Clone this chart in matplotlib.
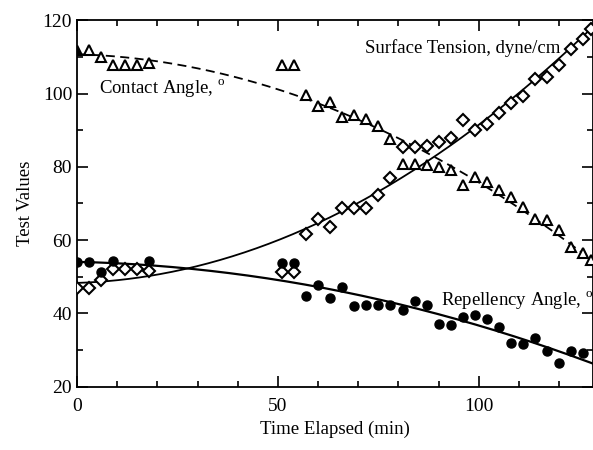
import matplotlib
matplotlib.use('Agg')
import matplotlib.pyplot as plt
import numpy as np

plt.rcParams['font.family'] = ['Liberation Serif', 'DejaVu Serif']
plt.rcParams['mathtext.fontset'] = 'custom'
plt.rcParams['mathtext.rm'] = 'Liberation Serif'

# contact angle (open triangles, dashed fit)
contact_t = [0, 3, 6, 9, 12, 15, 18, 51, 54, 57, 60, 63, 66, 69, 72, 75, 78, 81, 84, 87,
             90, 93, 96, 99, 102, 105, 108, 111, 114, 117, 120, 123, 126, 128]
contact_v = [111.9, 111.9, 110.0, 107.8, 107.8, 107.8, 108.2, 107.8, 107.8, 99.5, 96.5, 97.6,
             93.7, 94.0, 93.0, 91.0, 87.5, 80.8, 80.8, 80.5, 79.9, 79.1, 75.0, 77.1, 75.8,
             73.7, 71.7, 69.1, 65.8, 65.5, 62.8, 58.2, 56.4, 54.6]

# surface tension (open diamonds, solid fit)
tension_t = [0, 3, 6, 9, 12, 15, 18, 51, 54, 57, 60, 63, 66, 69, 72, 75, 78, 81, 84, 87,
             90, 93, 96, 99, 102, 105, 108, 111, 114, 117, 120, 123, 126, 128]
tension_v = [46.8, 46.8, 49.1, 52.0, 52.2, 52.0, 51.6, 51.4, 51.2, 61.7, 65.7, 63.7, 68.8,
             68.8, 68.7, 72.3, 76.9, 85.5, 85.5, 85.8, 86.7, 87.9, 92.8, 90.0, 91.6, 94.6,
             97.3, 99.4, 104.0, 104.6, 107.8, 112.1, 114.9, 117.6]

# repellency angle (filled circles, solid fit)
repel_t = [0, 3, 6, 9, 18, 51, 54, 57, 60, 63, 66, 69, 72, 75, 78, 81, 84, 87, 90, 93,
           96, 99, 102, 105, 108, 111, 114, 117, 120, 123, 126]
repel_v = [54.1, 53.9, 51.2, 54.3, 54.4, 53.8, 53.8, 44.8, 47.7, 44.1, 47.1, 42.1, 42.2,
           42.4, 42.2, 40.9, 43.5, 42.2, 37.1, 36.9, 39.1, 39.6, 38.5, 36.4, 31.8, 31.6,
           33.4, 29.7, 26.5, 29.7, 29.3]


def fit_curve(t, v, xs, deg=2):
    return np.polyval(np.polyfit(t, v, deg), xs)


fig = plt.figure(figsize=(5.93, 4.5), dpi=100)
ax = fig.add_axes([0.1298, 0.1407, 0.8702, 0.8144])

xs = np.linspace(0, 128.4, 300)
ax.plot(xs, fit_curve(contact_t, contact_v, xs), color='black', lw=1.3, ls=(0, (5, 3)), zorder=2)
ax.plot(xs, fit_curve(tension_t, tension_v, xs), color='black', lw=1.3, zorder=2)
ax.plot(xs, fit_curve(repel_t, repel_v, xs), color='black', lw=1.6, zorder=2)

ax.plot(contact_t[1:], contact_v[1:], ls='none', marker='^', ms=6.5, mfc='white', mec='black', mew=1.5, zorder=3)
ax.plot(contact_t[:1], contact_v[:1], ls='none', marker='^', ms=6.5, color='black', zorder=3)
ax.plot(tension_t, tension_v, ls='none', marker='D', ms=6.5, mfc='white', mec='black', mew=1.5, zorder=3)
ax.plot(repel_t, repel_v, ls='none', marker='o', ms=6.5, color='black', zorder=3)

ax.text(5.5, 101.5, r'Contact Angle, $^{\rm o}$', fontsize=13.5, va='center')
ax.text(71.6, 112.3, 'Surface Tension, dyne/cm', fontsize=13.5, va='center')
ax.text(90.5, 43.7, r'Repellency Angle, $^{\rm o}$', fontsize=13.5, va='center')

ax.set_xlim(0, 128.4)
ax.set_ylim(20, 120)
ax.set_xticks([0, 50, 100])
ax.set_xticks(np.arange(10, 130, 10), minor=True)
ax.set_yticks(np.arange(20, 121, 20))
ax.set_yticks(np.arange(30, 120, 20), minor=True)
ax.tick_params(which='both', direction='in', top=True, right=True, width=1.2, labelsize=14)
ax.tick_params(which='major', length=8)
ax.tick_params(which='minor', length=4.5)
ax.tick_params(axis='x', pad=8)
for s in ax.spines.values():
    s.set_linewidth(1.3)

ax.set_xlabel('Time Elapsed (min)', fontsize=13.5, labelpad=4)
ax.set_ylabel('Test Values', fontsize=13.5, labelpad=6)

fig.savefig('out.png', dpi=100)
